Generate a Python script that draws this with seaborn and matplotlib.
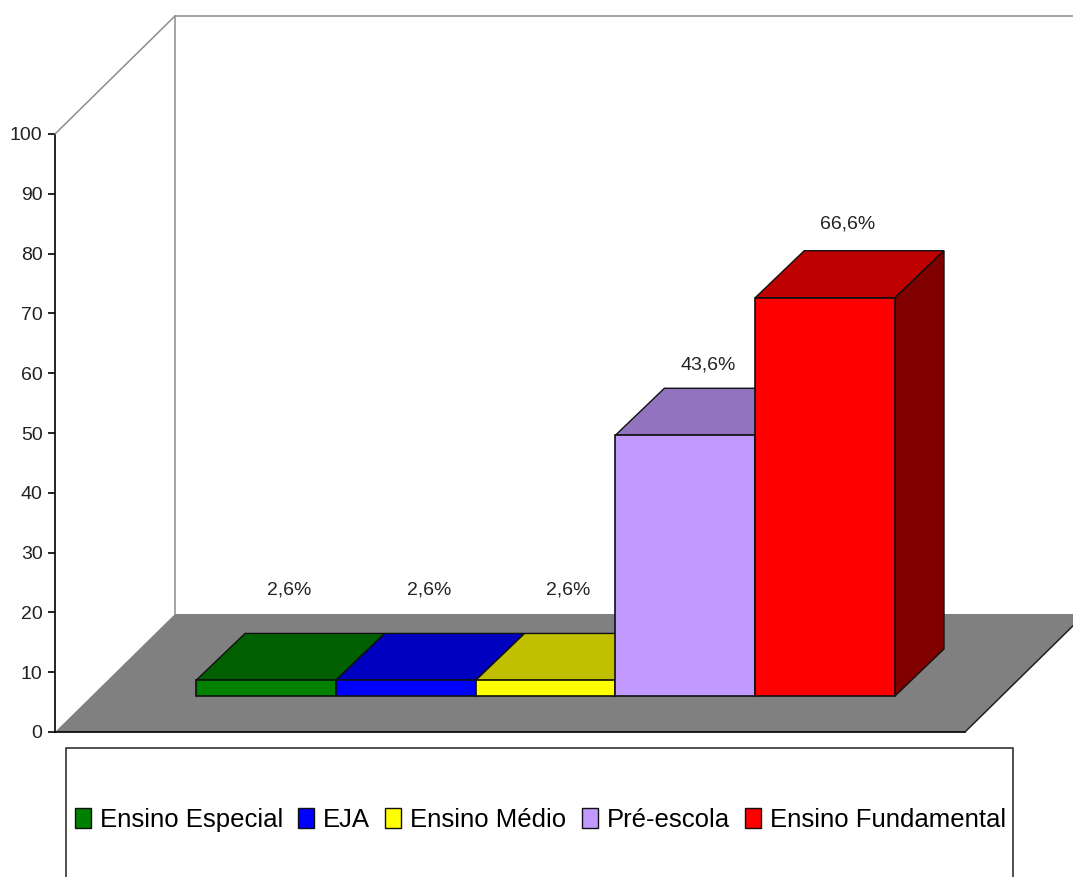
import matplotlib
matplotlib.use("Agg")
import matplotlib.pyplot as plt
from matplotlib.patches import Patch, Polygon, Rectangle
from matplotlib.lines import Line2D
from matplotlib.transforms import Affine2D
import pandas as pd
import seaborn as sns

categories = ["Ensino Especial", "EJA", "Ensino Médio", "Pré-escola", "Ensino Fundamental"]
values = [2.6, 2.6, 2.6, 43.6, 66.6]
value_labels = ["2,6%", "2,6%", "2,6%", "43,6%", "66,6%"]
y_ticks = list(range(0, 101, 10))

front_colors = ["#008000", "#0000FF", "#FFFF00", "#C299FF", "#FF0000"]
top_colors = ["#006000", "#0000C0", "#C0C000", "#9273BF", "#BF0000"]
side_colors = ["#004000", "#000080", "#808000", "#614D80", "#800000"]

W, H = 1073, 877
FLOOR_DX, FLOOR_DY = 120, 118     # chart depth in pixels
BAR_DX, BAR_DY = 49, 47           # bar depth in pixels
BAR_LIFT = 36                     # bars stand this far behind the front floor edge
LABEL_DX = 23
LABEL_LIFT = [90, 90, 90, 70, 74]

sns.set_style("white")
plt.rcParams["font.family"] = ["Liberation Sans", "DejaVu Sans"]

fig = plt.figure(figsize=(W / 100, H / 100), dpi=100, facecolor="white")
ax = fig.add_axes([55 / W, (H - 732) / H, 910 / W, 598 / H])
ax.patch.set_visible(False)

df = pd.DataFrame({"categoria": categories, "valor": values})
sns.barplot(data=df, x="categoria", y="valor", hue="categoria", palette=front_colors,
            width=1, dodge=False, legend=False, edgecolor="#101010", linewidth=1.2,
            saturation=1, ax=ax)

px_per_unit = 139.8
x_left = -0.5 - 141 / px_per_unit
ax.set_xlim(x_left, x_left + 910 / px_per_unit)
ax.set_ylim(0, 100)
ax.set_xticks([])
ax.set_xlabel("")
ax.set_ylabel("")
ax.set_yticks(y_ticks)
ax.tick_params(axis="y", left=True, length=5, width=1.2, color="black", pad=4,
               labelsize=14, labelcolor="#222222")
for s in ("top", "right"):
    ax.spines[s].set_visible(False)
for s in ("left", "bottom"):
    ax.spines[s].set_color("black")
    ax.spines[s].set_linewidth(1.2)
    ax.spines[s].set_zorder(2)

# floor and back wall
fx0, fy0 = ax.transAxes.transform((0, 0))
fx1, fy1 = ax.transAxes.transform((1, 1))
floor = [(fx0, fy0), (fx1, fy0), (fx1 + FLOOR_DX, fy0 + FLOOR_DY), (fx0 + FLOOR_DX, fy0 + FLOOR_DY)]
fig.add_artist(Polygon(floor, closed=True, transform=None, facecolor="#808080",
                       edgecolor="none", zorder=0))
wall = "#8c8c8c"
for xs, ys, c in [
    ([fx0, fx0 + FLOOR_DX], [fy1, fy1 + FLOOR_DY], wall),
    ([fx0 + FLOOR_DX, fx1 + FLOOR_DX], [fy1 + FLOOR_DY] * 2, wall),
    ([fx0 + FLOOR_DX] * 2, [fy1 + FLOOR_DY, fy0 + FLOOR_DY], wall),
    ([fx1, fx1 + FLOOR_DX], [fy0, fy0 + FLOOR_DY], "#202020"),
]:
    fig.add_artist(Line2D(xs, ys, transform=None, color=c, lw=1.1, zorder=1))

# bars: front face from seaborn, lifted; top and side added behind it
edge = "#101010"
for i, bar in enumerate(ax.patches[:len(values)]):
    x0, w, h = bar.get_x(), bar.get_width(), bar.get_height()
    ax0, ay0 = ax.transData.transform((x0, 0))
    ax1, ay1 = ax.transData.transform((x0 + w, h))
    ay0 += BAR_LIFT
    ay1 += BAR_LIFT
    bar.set_transform(ax.transData + Affine2D().translate(0, BAR_LIFT))
    bar.set_clip_on(False)
    bar.set_zorder(3 + i + 0.5)
    top = [(ax0, ay1), (ax1, ay1), (ax1 + BAR_DX, ay1 + BAR_DY), (ax0 + BAR_DX, ay1 + BAR_DY)]
    side = [(ax1, ay0), (ax1 + BAR_DX, ay0 + BAR_DY), (ax1 + BAR_DX, ay1 + BAR_DY), (ax1, ay1)]
    ax.add_patch(Polygon(top, closed=True, transform=None, facecolor=top_colors[i],
                         edgecolor=edge, lw=1.0, zorder=3 + i, clip_on=False))
    ax.add_patch(Polygon(side, closed=True, transform=None, facecolor=side_colors[i],
                         edgecolor=edge, lw=1.0, zorder=3 + i, clip_on=False))
    ax.text((ax0 + ax1) / 2 + LABEL_DX, ay1 + LABEL_LIFT[i], value_labels[i], transform=None,
            ha="center", va="center", fontsize=14, color="#222222", zorder=20, clip_on=False)

# legend box runs off the bottom of the picture
fig.add_artist(Rectangle((66 / W, -20 / H), 947 / W, (H - 748 + 20) / H, transform=fig.transFigure,
                         facecolor="white", edgecolor="#202020", lw=1.1, zorder=0.5))
handles = [Patch(facecolor=c, edgecolor="#101010", lw=1.0, label=n)
           for c, n in zip(front_colors, categories)]
leg = fig.legend(handles=handles, loc="center left", ncol=5, mode="expand",
                 bbox_to_anchor=(75 / W, (H - 820 - 20) / H, 931 / W, 40 / H),
                 bbox_transform=fig.transFigure, borderaxespad=0, borderpad=0, fontsize=18.5,
                 frameon=False, handlelength=0.62, handleheight=0.85, handletextpad=0.35,
                 columnspacing=0.5, labelcolor="black")

fig.savefig("out.png", dpi=100, facecolor="white")
